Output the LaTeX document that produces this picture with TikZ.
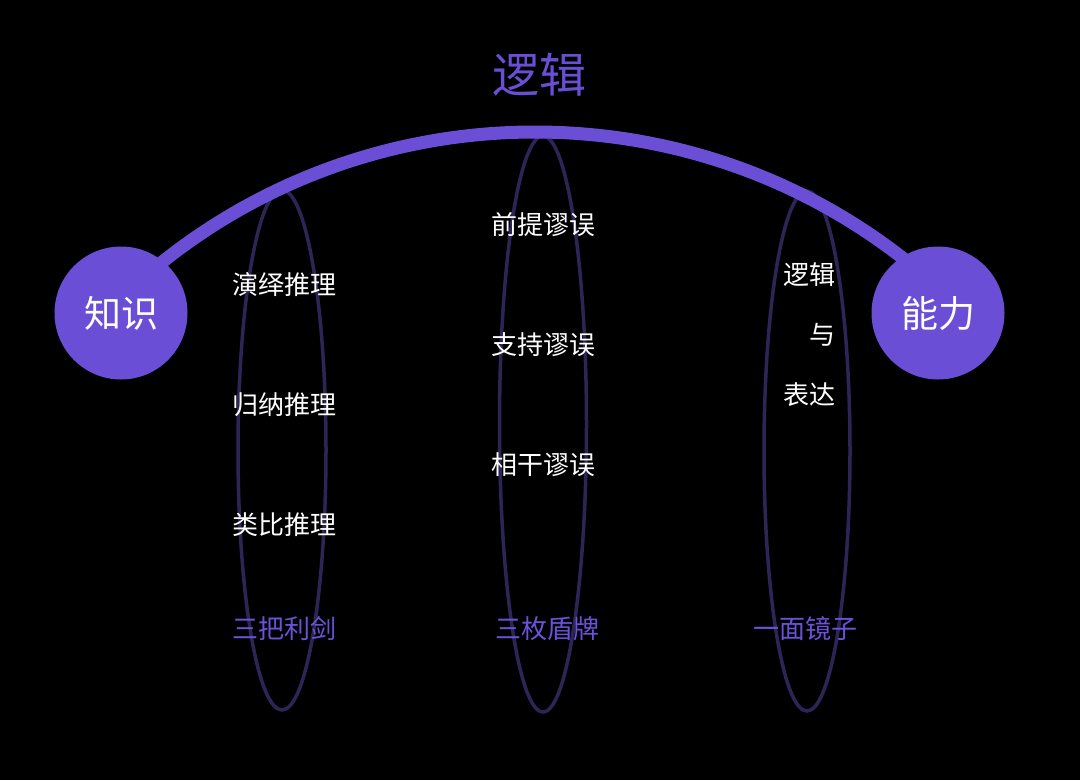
\documentclass[tikz,border=0pt]{standalone}
\usepackage{fontspec}
\setmainfont{Noto Sans CJK SC}
\definecolor{mainpurple}{HTML}{6A4FD6}
\definecolor{lblpurple}{HTML}{6B52D9}
\definecolor{ringcol}{HTML}{2C2656}
\tikzset{
  ring/.style={draw=ringcol, line width=3.5pt},
  arcline/.style={draw=mainpurple, line width=13pt},
  bigdot/.style={circle, fill=mainpurple, minimum size=133pt, inner sep=0pt, text=white, font=\fontsize{37}{42}\selectfont},
  item/.style={text=white, inner sep=0pt, font=\fontsize{26}{30}\selectfont},
  group/.style={text=lblpurple, inner sep=0pt, font=\fontsize{26}{30}\selectfont},
  title/.style={text=mainpurple, inner sep=0pt, font=\fontsize{47}{52}\selectfont}
}
\begin{document}
\begin{tikzpicture}[x=1pt,y=-1pt]
\fill[black] (0,0) rectangle (1080,780);
\useasboundingbox (0,0) rectangle (1080,780);
% ellipses
\draw[ring] (282,450) ellipse [x radius=44, y radius=260];
\draw[ring] (543,424) ellipse [x radius=43.5, y radius=288];
\draw[ring] (807,451) ellipse [x radius=43, y radius=260];
% arc
\coordinate (arcc) at (535,731);
\draw[arcline] ([shift={(225:599)}]arcc) arc[start angle=225, end angle=315, radius=599];
% circles
\node[bigdot] (kn) at (121,313) {知识};
\node[bigdot] (ab) at (938,313) {能力};
% title
\node[title] (tt) at (539,75) {逻辑};
% column 1
\node[item] (a1) at (284,285) {演绎推理};
\node[item] (a2) at (284,405) {归纳推理};
\node[item] (a3) at (284,525) {类比推理};
\node[group] (ga) at (284,629) {三把利剑};
% column 2
\node[item] (b1) at (543,225) {前提谬误};
\node[item] (b2) at (543,345) {支持谬误};
\node[item] (b3) at (543,465) {相干谬误};
\node[group] (gb) at (547,629) {三枚盾牌};
% column 3
\node[item] (c1) at (809,275) {逻辑};
\node[item] (c2) at (822,335) {与};
\node[item] (c3) at (809,395) {表达};
\node[group] (gc) at (805,629) {一面镜子};
\end{tikzpicture}
\end{document}
